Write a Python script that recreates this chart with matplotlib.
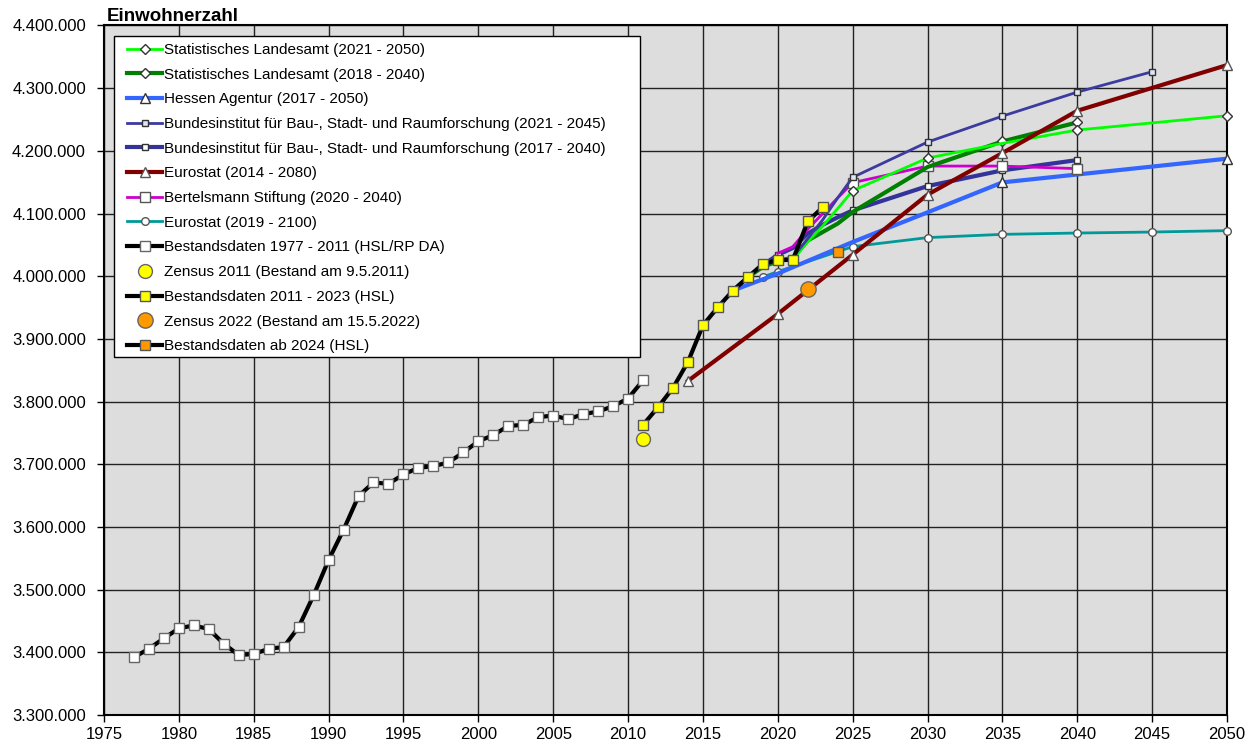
import numpy as np
import matplotlib.pyplot as plt
from matplotlib.patches import Rectangle
from matplotlib.ticker import FuncFormatter, MultipleLocator

plt.rcParams['font.family'] = ['Liberation Sans', 'DejaVu Sans']

# Bestandsdaten 1977 - 2011 (HSL/RP DA)
hist_years = np.arange(1977, 2012)
hist_vals = [3392000, 3405700, 3422300, 3438200, 3443000, 3437100, 3413700, 3395700,
             3397300, 3405700, 3408500, 3440300, 3490900, 3547100, 3595500, 3649200,
             3671000, 3668800, 3683800, 3694300, 3697000, 3702900, 3718800, 3736800,
             3746400, 3761200, 3762800, 3775100, 3777800, 3771900, 3779900, 3784200,
             3792600, 3804900, 3834000]

# Bestandsdaten 2011 - 2023 (HSL)
hsl_years = np.arange(2011, 2024)
hsl_vals = [3762800, 3791000, 3821800, 3863300, 3921800, 3950500, 3977100, 3998300,
            4019500, 4025900, 4025900, 4087600, 4109900]

zensus2011 = (2011, 3740000)
zensus2022 = (2022, 3980200)
hsl2024 = (2024, 4038600)

# Projektionen
sl21_years = [2021, 2022, 2023, 2024, 2025, 2030, 2035, 2040, 2050]
sl21_vals = [4025900, 4055000, 4080000, 4108000, 4136400, 4188500, 4212000, 4233200, 4256000]

sl18_years = [2018, 2019, 2020, 2021, 2022, 2023, 2024, 2025, 2030, 2035, 2040]
sl18_vals = [3998300, 4015000, 4024000, 4030000, 4057000, 4070500, 4084000, 4102500,
             4174200, 4215000, 4245400]

ha_years = [2017, 2020, 2025, 2030, 2035, 2040, 2050]
ha_vals = [3977100, 4004200, 4054600, 4101900, 4149700, 4162300, 4187500]

bbsr21_years = [2021, 2022, 2023, 2024, 2025, 2030, 2035, 2040, 2045]
bbsr21_vals = [4030000, 4060000, 4090000, 4125000, 4157700, 4214000, 4255400, 4293700, 4326200]

bbsr17_years = [2017, 2018, 2019, 2020, 2021, 2022, 2023, 2024, 2025, 2030, 2035, 2040]
bbsr17_vals = [3977100, 3998300, 4018000, 4034000, 4045000, 4068000, 4082000, 4094000,
               4105000, 4143800, 4168900, 4185300]

euro14_years = [2014, 2020, 2025, 2030, 2035, 2040, 2050]
euro14_vals = [3833000, 3939800, 4034400, 4130100, 4196500, 4264000, 4336800]

bert_years = [2020, 2021, 2022, 2023, 2024, 2025, 2030, 2035, 2040]
bert_vals = [4036500, 4047000, 4075000, 4100000, 4125000, 4149200, 4175700, 4175700, 4171600]

euro19_years = [2019, 2020, 2025, 2030, 2035, 2040, 2045, 2050]
euro19_vals = [3998800, 4007400, 4047200, 4061600, 4066800, 4068900, 4070500, 4072700]

fig = plt.figure(figsize=(12.54, 7.47), dpi=100)
ax = fig.add_axes([0.0829, 0.0428, 0.8956, 0.9231])
ax.set_facecolor('#DDDDDD')

def every5(years):
    return [i for i, y in enumerate(years) if y % 5 == 0]

ax.plot(euro19_years, euro19_vals, color='#009999', lw=2, marker='o', ms=5.5,
        mfc='white', mec='#555555', label='Eurostat (2019 - 2100)', zorder=3, clip_on=False)
ax.plot(ha_years, ha_vals, color='#3366FF', lw=3, marker='^', ms=7.5,
        mfc='white', mec='#333333', markevery=[4, 6],
        label='Hessen Agentur (2017 - 2050)', zorder=3, clip_on=False)
ax.plot(bbsr17_years, bbsr17_vals, color='#333399', lw=3, marker='s', ms=4.5,
        mfc='white', mec='#333333', markevery=[3] + every5(bbsr17_years)[1:],
        label='Bundesinstitut für Bau-, Stadt- und Raumforschung (2017 - 2040)', zorder=3)
ax.plot(bert_years, bert_vals, color='#CC00CC', lw=2, marker='s', ms=6.5,
        mfc='white', mec='#555555', markevery=every5(bert_years)[1:],
        label='Bertelsmann Stiftung (2020 - 2040)', zorder=3)
ax.plot(sl18_years, sl18_vals, color='#008000', lw=3, marker='D', ms=5.5,
        mfc='white', mec='#333333', markevery=[9, 10],
        label='Statistisches Landesamt (2018 - 2040)', zorder=3)
ax.plot(sl21_years, sl21_vals, color='#00FF00', lw=2, marker='D', ms=5.5,
        mfc='white', mec='#333333', markevery=[4, 5, 7, 8],
        label='Statistisches Landesamt (2021 - 2050)', zorder=3, clip_on=False)
ax.plot(bbsr21_years, bbsr21_vals, color='#3B3BA0', lw=2, marker='s', ms=4.5,
        mfc='#E0E6F4', mec='#333333', markevery=every5(bbsr21_years),
        label='Bundesinstitut für Bau-, Stadt- und Raumforschung (2021 - 2045)', zorder=3)
ax.plot(euro14_years, euro14_vals, color='#800000', lw=3, marker='^', ms=7.5,
        mfc='white', mec='#555555',
        label='Eurostat (2014 - 2080)', zorder=3, clip_on=False)

ax.plot(hist_years, hist_vals, color='black', lw=3, marker='s', ms=7,
        mfc='white', mec='#666666', label='Bestandsdaten 1977 - 2011 (HSL/RP DA)', zorder=4)
ax.plot(*zensus2011, ls='none', marker='o', ms=10, mfc='#FFFF00', mec='#666666',
        label='Zensus 2011 (Bestand am 9.5.2011)', zorder=5)
ax.plot(hsl_years, hsl_vals, color='black', lw=3, marker='s', ms=7,
        mfc='#FFFF00', mec='#555555', label='Bestandsdaten 2011 - 2023 (HSL)', zorder=5)
ax.plot(*zensus2022, ls='none', marker='o', ms=11, mfc='#FF9900', mec='#666666',
        label='Zensus 2022 (Bestand am 15.5.2022)', zorder=5)
ax.plot(*hsl2024, color='black', lw=3, marker='s', ms=7, mfc='#FF9900',
        mec='#555555', label='Bestandsdaten ab 2024 (HSL)', zorder=5)

ax.set_xlim(1975, 2050)
ax.set_ylim(3300000, 4400000)
ax.xaxis.set_major_locator(MultipleLocator(5))
ax.yaxis.set_major_locator(MultipleLocator(100000))
ax.yaxis.set_major_formatter(FuncFormatter(lambda v, p: f'{v:,.0f}'.replace(',', '.')))
ax.grid(True, color='#222222', lw=1)
ax.set_axisbelow(True)
ax.tick_params(labelsize=12, length=5, width=1, direction='out', color='black')
ax.tick_params(axis='y', pad=8)
for s in ax.spines.values():
    s.set_linewidth(1.5)
    s.set_color('black')

fig.text(0.0853, 0.972, 'Einwohnerzahl', fontsize=13.5, fontweight='bold', va='baseline')

order = ['Statistisches Landesamt (2021 - 2050)', 'Statistisches Landesamt (2018 - 2040)',
         'Hessen Agentur (2017 - 2050)',
         'Bundesinstitut für Bau-, Stadt- und Raumforschung (2021 - 2045)',
         'Bundesinstitut für Bau-, Stadt- und Raumforschung (2017 - 2040)',
         'Eurostat (2014 - 2080)', 'Bertelsmann Stiftung (2020 - 2040)',
         'Eurostat (2019 - 2100)', 'Bestandsdaten 1977 - 2011 (HSL/RP DA)',
         'Zensus 2011 (Bestand am 9.5.2011)', 'Bestandsdaten 2011 - 2023 (HSL)',
         'Zensus 2022 (Bestand am 15.5.2022)', 'Bestandsdaten ab 2024 (HSL)']
handles, labels = ax.get_legend_handles_labels()
hmap = dict(zip(labels, handles))

# legend box drawn separately, entries placed inside
box = Rectangle((0.0089, 0.5192), 0.4684, 0.4656, transform=ax.transAxes,
                facecolor='white', edgecolor='black', lw=1, zorder=9)
ax.add_patch(box)
leg = ax.legend([hmap[l] for l in order], order, loc='upper left',
                bbox_to_anchor=(0.0205, 0.9747), borderaxespad=0, borderpad=0,
                fontsize=11, frameon=False, handlelength=2.3,
                handletextpad=0.15, labelspacing=0.70)
leg.set_zorder(10)

plt.savefig('out.png', dpi=100)
